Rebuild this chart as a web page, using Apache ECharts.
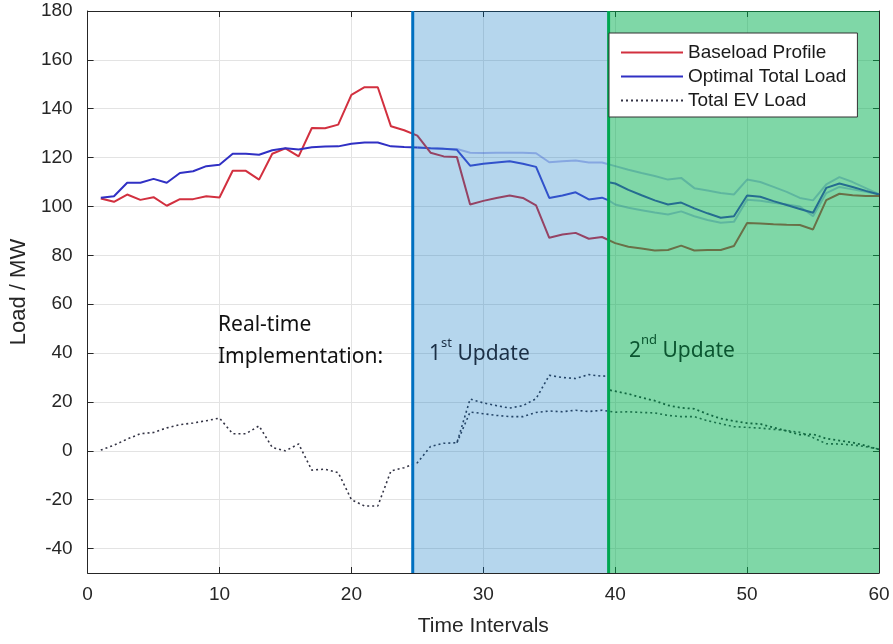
<!DOCTYPE html>
<html>
<head>
<meta charset="utf-8">
<script src="https://cdn.jsdelivr.net/npm/echarts@6/dist/echarts.min.js"></script>
<style>
html,body{margin:0;padding:0;background:#fff;}
#c{width:893px;height:644px;}
</style>
</head>
<body>
<div id="c"></div>
<script>
// ---- data (t = time interval) ----
var baseloadT = [1,2,3,4,5,6,7,8,9,10,11,12,13,14,15,16,17,18,19,20,21,22,23,24,25,26,27,28,29,30,31,32,33,34,35,36,37,38,39,40,41,42,43,44,45,46,47,48,49,50,51,52,53,54,55,56,57,58,59,60];
var baseload = [103.3,101.9,104.9,102.7,103.8,100.3,103.0,103.0,104.2,103.7,114.6,114.6,111.0,121.6,123.8,120.5,132.1,132.0,133.5,145.7,148.8,148.8,132.8,131.2,129.0,122.0,120.5,120.2,100.8,102.3,103.5,104.5,103.5,100.5,87.2,88.5,89.2,86.8,87.5,85.0,83.5,82.8,82.0,82.2,84.0,82.0,82.2,82.2,83.8,93.2,93.0,92.7,92.5,92.4,90.6,102.6,105.2,104.6,104.3,104.3];

var optimalT = [1,2,3,4,5,6,7,8,9,10,11,12,13,14,15,16,17,18,19,20,21,22,23,24,25];
var optimal = [103.6,104.2,109.7,109.7,111.3,109.7,113.7,114.4,116.5,117.1,121.6,121.6,121.2,123.0,123.8,123.3,124.2,124.5,124.6,125.7,126.2,126.2,124.6,124.3,124.1];

var optimalPlanT = [25,26,27,28,29,30,31,32,33,34,35,36,37,38,39,40,41,42,43,44,45,46,47,48,49,50,51,52,53,54,55,56,57,58,59,60];
var optimalPlan = [124.1,123.8,123.6,123.5,122.0,121.9,122.0,122.0,122.0,121.8,118.1,118.5,118.8,118.0,118.0,116.5,115.0,113.7,112.5,111.0,111.7,107.5,106.5,105.5,104.9,111.0,110.0,108.0,106.0,103.5,102.5,109.0,112.0,110.0,107.5,105.0];

var update1T = [25,26,27,28,29,30,31,32,33,34,35,36,37,38,39,39.5];
var update1 = [124.1,123.8,123.6,123.2,116.7,117.5,118.0,118.5,117.5,116.2,103.5,104.5,105.8,102.9,103.6,102.5];
var update1RestT = [39.5,40,41,42,43,44,45,46,47,48,49,50,51,52,53,54,55,56,57,58,59,60];
var update1Rest = [102.5,100.8,99.5,98.5,97.5,96.7,98.0,96.0,94.5,93.3,93.7,102.8,102.3,101.5,100.8,100.0,96.0,105.5,108.0,107.0,106.0,105.0];

var update2T = [39.6,40,41,42,43,44,45,46,47,48,49,50,51,52,53,54,55,56,57,58,59,60];
var update2 = [109.8,109.4,106.8,104.6,102.5,100.8,101.6,99.2,97.2,95.4,96.0,104.5,104.0,102.2,100.6,99.0,97.4,107.6,109.4,108.0,106.4,104.9];

var evT = [1,2,3,4,5,6,7,8,9,10,11,12,13,14,15,16,17,18,19,20,21,22,23,24,25,26,27,28,29,30,31,32,33,34,35,36,37,38,39,39.5];
var ev = [0.3,2.3,4.8,7.0,7.5,9.4,10.7,11.4,12.3,13.4,7.0,7.0,10.2,1.4,0.0,2.8,-7.9,-7.5,-8.9,-20.0,-22.6,-22.6,-8.2,-6.9,-4.9,1.8,3.1,3.3,21.2,19.6,18.5,17.5,18.5,21.3,30.9,30.0,29.6,31.2,30.5,30.8];

var ev1T = [28,29,30,31,32,33,34,35,36,37,38,39,40,41,42,43,44,45,46,47,48,49,50,51,52,53,54,55,56,57,58,59,60];
var ev1 = [3.3,15.9,15.2,14.5,14.0,14.0,15.7,16.3,16.0,16.6,16.1,16.6,15.8,16.0,15.7,15.5,14.5,14.0,14.0,12.3,11.1,9.9,9.6,9.3,8.8,8.3,7.6,5.4,2.9,2.8,2.4,1.7,0.7];

var ev2T = [39.6,40,41,42,43,44,45,46,47,48,49,50,51,52,53,54,55,56,57,58,59,60];
var ev2 = [24.8,24.4,23.3,21.8,20.5,18.6,17.6,17.2,15.0,13.2,12.2,11.3,11.0,9.5,8.1,6.6,6.8,5.0,4.2,3.4,2.1,0.6];

// update periods (time intervals)
var regionStart = [24.65, 39.5];
var regionEnd = [39.5, 60];

var xTicks = [0,10,20,30,40,50,60];
var yTicks = [-40,-20,0,20,40,60,80,100,120,140,160,180];

var legendNames = ['Baseload Profile','Optimal Total Load','Total EV Load'];

function pairs(t, v){ return t.map(function(x,i){ return [x, v[i]]; }); }

var chart = echarts.init(document.getElementById('c'), null, {renderer:'canvas'});
var axisFont = 'Liberation Sans';
var axisColor = '#262626';

var regionFill = ['rgba(0,112,192,0.29)','rgba(0,176,80,0.5)'];
var regionLine = ['#0070C0','#00A651'];

var option = {
  animation:false,
  backgroundColor:'#ffffff',
  grid:{left:85,right:14,top:11,bottom:71,containLabel:false},
  legend:{
    data:legendNames,
    orient:'vertical',
    left:609, top:33,
    itemWidth:62, itemHeight:14, itemGap:5,
    padding:[10,11,7,11],
    backgroundColor:'#ffffff',
    borderColor:'#333333', borderWidth:1,
    itemStyle:{opacity:0},
    textStyle:{fontFamily:axisFont,fontSize:19,color:'#1a1a1a'},
    z:20
  },
  xAxis:[{
    type:'value', min:0, max:60, interval:10,
    name:'Time Intervals', nameLocation:'middle', nameGap:43,
    nameTextStyle:{fontFamily:axisFont,fontSize:21,color:axisColor},
    axisLine:{show:true,onZero:false,lineStyle:{color:axisColor,width:1}},
    axisTick:{show:true,inside:true,length:6,lineStyle:{color:axisColor}},
    axisLabel:{fontFamily:axisFont,fontSize:19,color:axisColor,margin:12},
    splitLine:{show:true,lineStyle:{color:'#e3e3e3',width:1}}
  },{
    type:'value', min:0, max:60, interval:10, position:'top',
    axisLine:{show:true,onZero:false,lineStyle:{color:axisColor,width:1}},
    axisTick:{show:true,inside:true,length:6,lineStyle:{color:axisColor}},
    axisLabel:{show:false}, splitLine:{show:false}
  }],
  yAxis:[{
    type:'value', min:-50, max:180,
    name:'Load / MW', nameLocation:'middle', nameGap:54,
    nameTextStyle:{fontFamily:axisFont,fontSize:22,color:axisColor},
    axisLine:{show:true,onZero:false,lineStyle:{color:axisColor,width:1}},
    axisTick:{show:true,inside:true,length:6,lineStyle:{color:axisColor},customValues:yTicks},
    axisLabel:{fontFamily:axisFont,fontSize:19,color:axisColor,margin:15,customValues:yTicks},
    splitLine:{show:true,lineStyle:{color:'#e3e3e3',width:1}}
  },{
    type:'value', min:-50, max:180, position:'right',
    axisLine:{show:true,onZero:false,lineStyle:{color:axisColor,width:1}},
    axisTick:{show:true,inside:true,length:6,lineStyle:{color:axisColor},customValues:yTicks},
    axisLabel:{show:false,customValues:yTicks}, splitLine:{show:false}
  }],
  series:[
    {name:'Optimal plan', type:'line', symbol:'none', z:2, data:pairs(optimalPlanT, optimalPlan),
      lineStyle:{color:'#5a5ad8',width:2,opacity:0.4}},
    {name:'Update 1 rest', type:'line', symbol:'none', z:2, data:pairs(update1RestT, update1Rest),
      lineStyle:{color:'#5a5ad8',width:2,opacity:0.4}},
    {name:'EV update 1', type:'line', symbol:'none', z:2, data:pairs(ev1T, ev1),
      lineStyle:{color:'#333344',width:1.6,type:[2,3]}},
    {name:'EV update 2', type:'line', symbol:'none', z:2, data:pairs(ev2T, ev2),
      lineStyle:{color:'#222233',width:1.8,type:[2,3]}},
    {name:'Total EV Load', type:'line', symbol:'none', z:2, data:pairs(evT, ev),
      color:'#333344',
      lineStyle:{color:'#333344',width:1.6,type:[2,3]}},
    {name:'Update 1', type:'line', symbol:'none', z:2, data:pairs(update1T, update1),
      lineStyle:{color:'#4545d0',width:2}},
    {name:'Update 2', type:'line', symbol:'none', z:2, data:pairs(update2T, update2),
      lineStyle:{color:'#4a2ad0',width:2}},
    {name:'Baseload Profile', type:'line', symbol:'none', z:2, data:pairs(baseloadT, baseload),
      color:'#d2303f',
      lineStyle:{color:'#d2303f',width:2}},
    {name:'Optimal Total Load', type:'line', symbol:'none', z:2, data:pairs(optimalT, optimal),
      color:'#3030c4',
      lineStyle:{color:'#3030c4',width:2}},
    {name:'Update periods', type:'custom', z:5, silent:true,
      encode:{x:[0,1]},
      data:regionStart.map(function(s,i){ return [s, regionEnd[i], i]; }),
      renderItem:function(params, api){
        var x0 = api.value(0), x1 = api.value(1), k = api.value(2);
        var p0 = api.coord([x0, 180]);
        var p1 = api.coord([x1, -50]);
        return {type:'group', children:[
          {type:'rect', shape:{x:p0[0], y:p0[1], width:p1[0]-p0[0], height:p1[1]-p0[1]},
            style:{fill:regionFill[k]}},
          {type:'line', shape:{x1:p0[0], y1:p0[1], x2:p0[0], y2:p1[1]},
            style:{stroke:regionLine[k], lineWidth:3}}
        ]};
      }
    }
  ],
  graphic:[
    {type:'text', left:218, top:309, z:30,
      style:{text:'Real-time\nImplementation:', font:'21px "Noto Sans"', fill:'#111111', lineHeight:32}},
    {type:'text', left:429, top:337, z:30,
      style:{text:'{n|1}{s|st}{n| Update}', fill:'#1b2f45',
        rich:{n:{font:'21px "Noto Sans"',fill:'#1b2f45',verticalAlign:'bottom',lineHeight:28},
              s:{font:'13px "Noto Sans"',fill:'#1b2f45',verticalAlign:'top',lineHeight:28}}}},
    {type:'text', left:629, top:334, z:30,
      style:{text:'{n|2}{s|nd}{n| Update}', fill:'#0b5530',
        rich:{n:{font:'21px "Noto Sans"',fill:'#0b5530',verticalAlign:'bottom',lineHeight:28},
              s:{font:'13px "Noto Sans"',fill:'#0b5530',verticalAlign:'top',lineHeight:28}}}}
  ]
};
chart.setOption(option);
</script>
</body>
</html>
